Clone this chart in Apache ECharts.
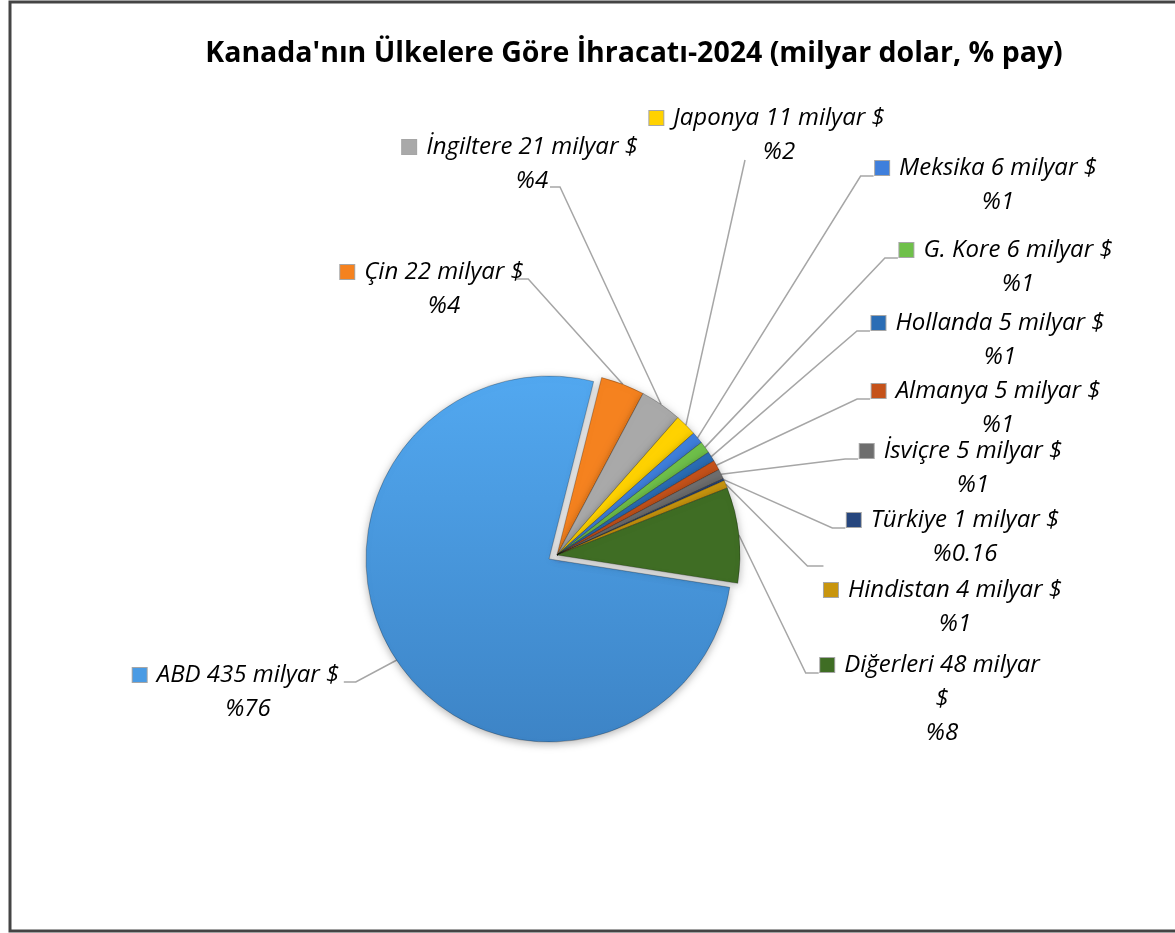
<!DOCTYPE html>
<html>
<head>
<meta charset="utf-8">
<title>Kanada ihracat 2024</title>
<script src="https://cdn.jsdelivr.net/npm/echarts@6/dist/echarts.min.js"></script>
<style>
    html, body { margin: 0; padding: 0; background: #fff; }
    #main { width: 1175px; height: 933px; }
</style>
</head>
<body>
<div id="main"></div>
<script>
// veriler
var ulkeler = ['ABD', 'Çin', 'İngiltere', 'Japonya', 'Meksika', 'G. Kore', 'Hollanda', 'Almanya', 'İsviçre', 'Türkiye', 'Hindistan', 'Diğerleri'];
var degerler = [435, 22, 21, 11, 6, 6, 5, 5, 5, 1, 4, 48];
var paylar = ['76', '4', '4', '2', '1', '1', '1', '1', '1', '0.16', '1', '8'];

// dilim renkleri
var renkler = ['#4a9be4', '#f5821f', '#a9a9a9', '#ffd200', '#3f7fdc', '#6fc04a', '#2a6db5', '#c5521a', '#6e6e6e', '#26467e', '#c8950e', '#3f6d24'];

// etiket yerleri: metin merkezi x, ilk satir y, cizginin baglandigi yer
var etiketYer = [
    [248, 675, 'sag'],
    [444, 272, 'sag'],
    [532, 147, 'sag2'],
    [779, 118, 'alt'],
    [998, 168, 'sol'],
    [1018, 250, 'sol'],
    [1000, 323, 'sol'],
    [998, 391, 'sol'],
    [973, 451, 'sol'],
    [965, 520, 'sol'],
    [955, 590, 'solust'],
    [942, 665, 'sol']
];

var IKON = 14, ARA = 10, SATIR = 34;
var MERKEZ = [557, 555], YARICAP = 183, BASLANGIC = -8.9;

var dom = document.getElementById('main');
var myChart = echarts.init(dom);

var zengin = {
    bos: { width: ARA },
    pad: { width: IKON + ARA },
    ad: { fontSize: 24, lineHeight: SATIR, fontStyle: 'italic', color: '#000', fontFamily: 'Open Sans' }
};
for (var k = 0; k < renkler.length; k++) {
    zengin['ikon' + k] = {
        width: IKON, height: IKON, backgroundColor: renkler[k],
        borderColor: 'rgba(0,0,0,0.35)', borderWidth: 1
    };
}

var gizli = { color: 'rgba(0,0,0,0)', borderWidth: 0, shadowBlur: 0, shadowOffsetY: 0 };

// ana seri: ABD disindaki dilimler ve tum etiketler
var veri = [];
// ABD'nin disari cekilmis dilimi
var veriABD = [];
for (var i = 0; i < ulkeler.length; i++) {
    veri.push({
        name: ulkeler[i],
        value: degerler[i],
        itemStyle: i === 0 ? gizli : { color: renkler[i] }
    });
    veriABD.push({
        name: ulkeler[i],
        value: degerler[i],
        itemStyle: i === 0 ? {
            color: new echarts.graphic.LinearGradient(0, 0, 0, 1, [
                { offset: 0, color: '#52a8f0' },
                { offset: 1, color: '#3d84c6' }
            ])
        } : gizli
    });
}

var option = {
    backgroundColor: '#fff',
    title: {
        text: "Kanada'nın Ülkelere Göre İhracatı-2024 (milyar dolar, % pay)",
        left: 629,
        top: 34,
        textAlign: 'center',
        textStyle: {
            fontFamily: 'Open Sans',
            fontWeight: 'bold',
            fontSize: 28.5,
            color: '#000'
        }
    },
    graphic: [{
        type: 'rect',
        shape: { x: 10, y: 2, width: 1180, height: 929 },
        style: { fill: 'none', stroke: '#444', lineWidth: 3 },
        silent: true
    }],
    series: [{
        type: 'pie',
        center: [MERKEZ[0] - 8, MERKEZ[1] + 4],
        radius: YARICAP,
        startAngle: BASLANGIC,
        clockwise: true,
        silent: true,
        animation: false,
        label: { show: false },
        labelLine: { show: false },
        itemStyle: {
            borderColor: 'rgba(0,0,0,0.25)',
            borderWidth: 1,
            shadowBlur: 8,
            shadowColor: 'rgba(0,0,0,0.3)',
            shadowOffsetY: 2
        },
        data: veriABD
    }, {
        type: 'pie',
        center: MERKEZ,
        radius: YARICAP,
        startAngle: BASLANGIC,
        clockwise: true,
        avoidLabelOverlap: false,
        animation: false,
        itemStyle: {
            borderColor: 'rgba(0,0,0,0.25)',
            borderWidth: 1,
            shadowBlur: 8,
            shadowColor: 'rgba(0,0,0,0.3)',
            shadowOffsetY: 2
        },
        label: {
            show: true,
            position: 'outside',
            align: 'center',
            formatter: function (p) {
                var i = p.dataIndex;
                var ad = p.name + ' ' + p.value + ' milyar';
                var satir = p.name === 'Diğerleri'
                    ? '{ikon' + i + '|}{bos|}{ad|' + ad + '}{pad|}\n{ad|$}'
                    : '{ikon' + i + '|}{bos|}{ad|' + ad + ' $}{pad|}';
                return satir + '\n{ad|%' + paylar[i] + '}';
            },
            rich: zengin
        },
        labelLine: {
            show: true,
            length: 20,
            length2: 10,
            lineStyle: { color: '#a6a6a6', width: 1.5 }
        },
        emphasis: { disabled: true },
        labelLayout: function (p) {
            var yer = etiketYer[p.dataIndex];
            var w = p.labelRect.width;
            var x = yer[0], y1 = yer[1];
            var sol = x - w / 2, sag = x + w / 2;
            var kenar = p.labelLinePoints ? p.labelLinePoints[0] : [x, y1];
            var a, m;
            if (yer[2] === 'sol') {
                a = [sol - 13, y1 + 8]; m = [sol - 26, y1 + 8];
            } else if (yer[2] === 'sag') {
                a = [sag - IKON - ARA + 4, y1 + 7]; m = [a[0] + 12, y1 + 7];
            } else if (yer[2] === 'sag2') {
                a = [x + 18, y1 + SATIR + 6]; m = [x + 28, y1 + SATIR + 6];
            } else if (yer[2] === 'alt') {
                a = [x - 34, y1 + 42]; m = a;
            } else {
                a = [sol - 12, y1 - 24]; m = [sol - 28, y1 - 24];
            }
            return {
                x: x,
                y: y1 - SATIR / 2,
                align: 'center',
                verticalAlign: 'top',
                labelLinePoints: [kenar, m, a]
            };
        },
        data: veri
    }]
};

myChart.setOption(option);
</script>
</body>
</html>
